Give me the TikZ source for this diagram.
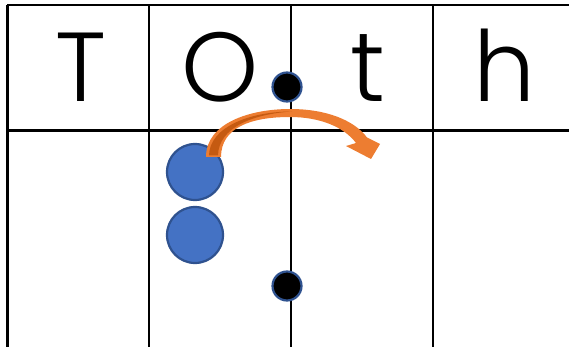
\documentclass[tikz,border=0pt]{standalone}
\usepackage{fontspec}
\setmainfont{Poppins}[UprightFont=* Light]
\definecolor{dotblue}{HTML}{2F528F}
\definecolor{ballblue}{HTML}{4472C4}
\definecolor{arrorange}{HTML}{ED7D31}
\definecolor{arrdark}{HTML}{C55A11}
\tikzset{
  gridline/.style={line width=2.8pt, black},
  letter/.style={anchor=base, inner sep=0pt, font=\fontsize{98}{98}\selectfont},
  blackdot/.style={circle, fill=black, draw=dotblue, line width=2.2pt, minimum size=29pt, inner sep=0pt},
  ball/.style={circle, fill=ballblue, draw=dotblue, line width=2.2pt, minimum size=56pt, inner sep=0pt},
}
\begin{document}
\begin{tikzpicture}[x=1pt, y=-1pt]
\useasboundingbox (0,0) rectangle (569,347);
% grid
\draw[gridline] (7,5) -- (569,5);
\draw[gridline] (7,130.5) -- (569,130.5);
\foreach \xx in {7.5,149,291,433} \draw[gridline] (\xx,5) -- (\xx,347);
% letters
\node[letter] (T) at (81,102) {T};
\node[letter] (O) at (220,102) {O};
\node[letter] (t) at (368,102) {t};
\node[letter] (h) at (505,102) {h};
% dots
\node[blackdot] (d1) at (287,87) {};
\node[blackdot] (d2) at (287,286) {};
% blue balls
\node[ball] (b1) at (195,172) {};
\node[ball] (b2) at (195,235) {};
% curved arrow
\fill[arrorange] (206,157) .. controls (206,123) and (250,109) .. (290,109)
  .. controls (326,109) and (354,120) .. (367,137.5)
  -- (380,144) -- (371,159) -- (346,146) -- (356,143)
  .. controls (344,127) and (320,117) .. (290,117)
  .. controls (250,117) and (221,128) .. (221,157) -- cycle;
\fill[arrdark] (209,155.5) .. controls (209.5,127) and (250,111.5) .. (292,111.5)
  .. controls (252,114) and (218.5,128) .. (218,155.5) -- cycle;
\end{tikzpicture}
\end{document}
